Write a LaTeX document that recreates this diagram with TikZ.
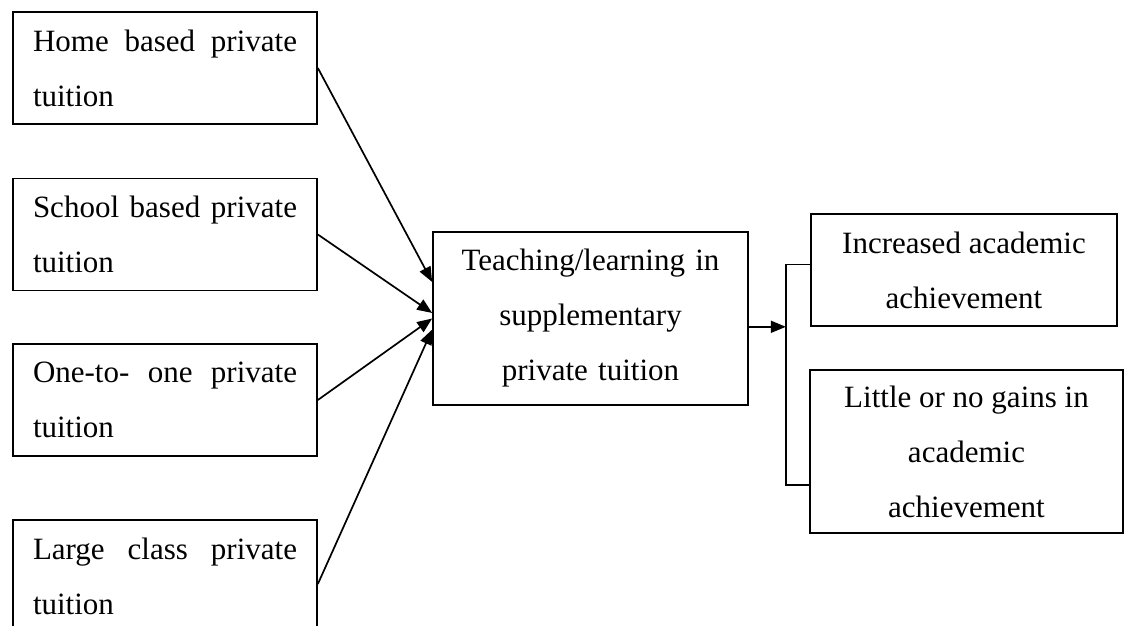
\documentclass[tikz,border=0pt]{standalone}
\usepackage{fontspec}
\setmainfont{Liberation Serif}
\usepackage{tikz}
\usetikzlibrary{arrows.meta,positioning}
\tolerance=10000
\hbadness=10000

\begin{document}
\begin{tikzpicture}[x=1pt, y=-1pt, line width=1.7pt, >={Triangle[length=15pt,width=12pt]}, font=\fontsize{31}{55}\selectfont, srcbox/.style = {draw, align=justify, text width=264pt, inner xsep=20pt, minimum height=112pt}, midbox/.style = {draw, align=center, text width=285pt, inner xsep=15pt, minimum height=173pt}, outbox/.style = {draw, align=center, inner sep=0pt}]
\useasboundingbox (0,0) rectangle (1130,626);

\node[srcbox] (home) at (165,68) {Home based private tuition};
\node[srcbox] (school) at (165,234.5) {School based private tuition};
\node[srcbox] (oneToOne) at (165,400) {One-to- one private tuition};
\node[srcbox] (largeClass) at (165,576) {Large class private tuition};
\node[midbox] (teach) at (590.5,318.5) {Teaching/learning in\\supplementary\\private tuition};
\node[outbox, minimum width=306pt, minimum height=112pt] (increased) at (964,270) {Increased academic\\achievement};
\node[outbox, minimum width=313pt, minimum height=163pt] (little) at (966.5,451.5) {Little or no gains in\\academic\\achievement};
\coordinate[right=37pt of teach.-3] (split);

\draw[->] (home.east) -- (teach.167);
\draw[->] (school.east) -- (teach.178);
\draw[->] (oneToOne.east) -- (teach.west);
\draw[->] (largeClass.-3) -- (teach.184);
\draw[->] (teach.-3) -- (split);
\draw (increased.178) -| (split) |- (little.192);
\end{tikzpicture}
\end{document}
